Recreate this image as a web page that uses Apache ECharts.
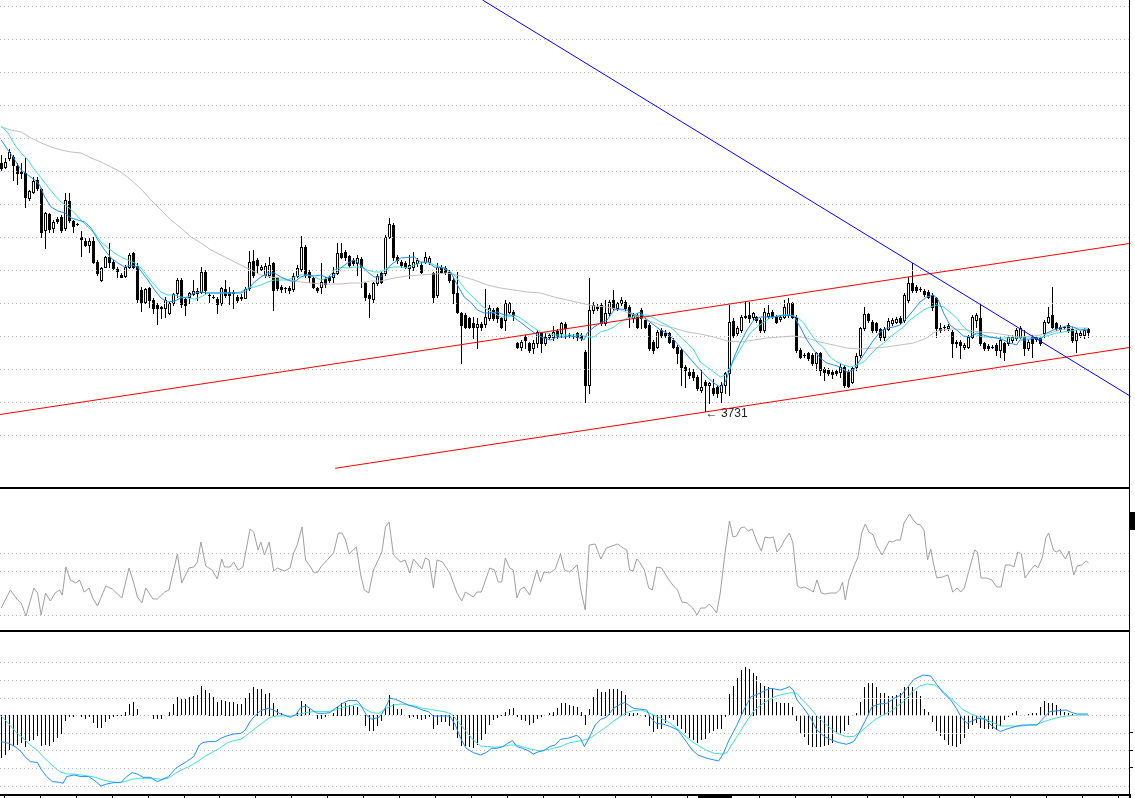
<!DOCTYPE html>
<html><head><meta charset="utf-8">
<script src="https://cdn.jsdelivr.net/npm/echarts@6/dist/echarts.min.js"></script>
<style>html,body{margin:0;padding:0;background:#fff}#c{width:1135px;height:798px}</style>
</head><body><div id="c"></div>
<script>
// ---- price bars (OHLC) ----
const opens = [3979,3975,3984,3985,3976,3970,3969,3944,3950,3962,3953,3912,3928,3914,3923,3925,3914,3941,3921,3918,3905,3901,3897,3901,3880,3862,3875,3885,3880,3873,3867,3866,3875,3889,3876,3852,3840,3854,3842,3837,3834,3834,3829,3839,3849,3862,3843,3845,3848,3851,3850,3870,3847,3845,3843,3839,3853,3850,3850,3845,3845,3844,3854,3881,3882,3873,3867,3867,3879,3864,3855,3854,3854,3853,3866,3873,3895,3870,3864,3854,3855,3863,3865,3865,3869,3889,3890,3886,3882,3879,3883,3859,3847,3843,3859,3869,3869,3905,3917,3885,3880,3879,3874,3875,3879,3877,3880,3880,3869,3847,3875,3874,3870,3862,3849,3829,3827,3824,3819,3815,3818,3818,3824,3832,3834,3824,3822,3830,3830,3799,3795,3805,3799,3794,3799,3809,3799,3805,3805,3811,3809,3818,3807,3806,3809,3807,3790,3757,3832,3834,3837,3819,3829,3842,3834,3839,3840,3835,3824,3827,3832,3822,3817,3800,3795,3812,3809,3809,3802,3795,3792,3775,3770,3770,3765,3752,3760,3757,3754,3755,3750,3757,3769,3821,3809,3812,3826,3827,3825,3825,3822,3812,3826,3830,3825,3823,3825,3827,3839,3825,3792,3787,3789,3787,3779,3789,3773,3772,3770,3771,3770,3775,3770,3760,3775,3787,3814,3828,3820,3819,3813,3805,3813,3819,3820,3824,3822,3842,3859,3855,3853,3851,3850,3847,3844,3814,3815,3814,3810,3800,3800,3795,3795,3805,3822,3824,3799,3796,3795,3797,3792,3799,3799,3802,3804,3805,3805,3794,3805,3803,3804,3809,3820,3827,3819,3815,3815,3817,3813,3802,3807,3807,3813];
const highs = [3987,3984,3993,3987,3979,3979,3984,3952,3965,3965,3954,3930,3929,3922,3925,3927,3949,3949,3922,3919,3911,3904,3904,3905,3882,3875,3886,3899,3882,3875,3869,3877,3889,3890,3879,3855,3854,3855,3844,3839,3836,3845,3840,3849,3864,3864,3845,3850,3862,3854,3875,3872,3849,3847,3845,3855,3862,3855,3852,3847,3848,3855,3891,3892,3884,3877,3879,3885,3880,3865,3857,3855,3856,3869,3877,3906,3897,3872,3865,3855,3879,3865,3867,3875,3899,3899,3892,3887,3884,3887,3885,3860,3849,3860,3868,3870,3907,3924,3919,3887,3882,3881,3887,3890,3884,3880,3890,3886,3870,3879,3877,3876,3872,3865,3870,3830,3829,3825,3825,3824,3820,3853,3837,3834,3835,3825,3842,3840,3832,3800,3802,3807,3800,3802,3812,3810,3809,3809,3816,3813,3820,3820,3809,3808,3810,3809,3792,3864,3840,3838,3839,3842,3842,3852,3840,3845,3842,3837,3829,3829,3834,3824,3819,3802,3812,3814,3812,3810,3804,3797,3794,3777,3774,3773,3767,3772,3762,3760,3763,3757,3760,3770,3837,3824,3816,3827,3840,3840,3830,3826,3824,3834,3837,3832,3827,3827,3842,3844,3840,3827,3794,3789,3790,3789,3790,3790,3775,3774,3773,3773,3779,3777,3772,3775,3789,3815,3835,3829,3822,3820,3814,3815,3824,3824,3825,3826,3849,3865,3879,3857,3855,3853,3852,3849,3845,3819,3817,3818,3812,3802,3802,3799,3807,3827,3829,3839,3800,3798,3797,3799,3805,3800,3807,3807,3814,3816,3812,3802,3807,3807,3806,3822,3835,3855,3820,3817,3816,3819,3815,3812,3811,3814,3814];
const lows = [3972,3974,3982,3962,3958,3964,3935,3942,3949,3952,3905,3894,3910,3910,3919,3910,3912,3920,3910,3917,3886,3896,3890,3879,3867,3861,3875,3875,3873,3865,3865,3865,3874,3874,3840,3831,3839,3835,3829,3818,3824,3825,3828,3837,3845,3835,3827,3839,3847,3842,3849,3849,3840,3844,3829,3837,3845,3838,3834,3840,3842,3844,3852,3865,3870,3872,3865,3865,3832,3852,3850,3850,3849,3851,3865,3871,3865,3860,3854,3850,3849,3855,3860,3860,3868,3884,3882,3875,3877,3867,3855,3842,3825,3840,3857,3859,3867,3904,3882,3879,3875,3874,3864,3872,3876,3869,3879,3878,3840,3845,3869,3868,3860,3839,3829,3779,3814,3814,3804,3794,3812,3815,3822,3822,3820,3814,3812,3829,3822,3794,3792,3794,3790,3789,3795,3790,3797,3803,3802,3804,3805,3804,3805,3804,3802,3802,3740,3749,3829,3832,3817,3817,3827,3832,3832,3837,3832,3815,3820,3814,3814,3814,3792,3789,3794,3805,3805,3799,3794,3779,3757,3755,3764,3762,3752,3750,3731,3739,3747,3745,3740,3749,3747,3805,3807,3810,3824,3820,3822,3820,3810,3810,3824,3824,3819,3821,3824,3825,3824,3790,3784,3785,3782,3777,3772,3767,3762,3767,3764,3767,3765,3755,3755,3759,3772,3785,3812,3820,3810,3810,3802,3802,3812,3817,3819,3819,3820,3840,3850,3850,3851,3846,3844,3832,3805,3810,3812,3812,3785,3795,3784,3793,3794,3804,3815,3797,3792,3792,3794,3787,3785,3782,3797,3800,3802,3804,3787,3792,3785,3801,3797,3805,3819,3814,3812,3811,3813,3810,3800,3790,3805,3804,3805];
const closes = [3974,3980,3990,3977,3969,3969,3945,3951,3961,3954,3910,3929,3913,3920,3921,3912,3942,3922,3916,3918,3903,3897,3901,3880,3869,3874,3885,3880,3874,3871,3865,3875,3887,3875,3843,3840,3853,3842,3834,3834,3835,3842,3839,3848,3862,3838,3837,3849,3851,3849,3870,3852,3847,3845,3838,3854,3847,3847,3849,3842,3844,3853,3880,3867,3877,3875,3876,3877,3852,3854,3853,3854,3852,3866,3874,3895,3867,3865,3855,3852,3860,3858,3862,3869,3889,3885,3885,3877,3879,3884,3875,3845,3844,3859,3866,3860,3905,3918,3885,3882,3877,3875,3877,3880,3882,3870,3885,3884,3845,3875,3870,3870,3862,3849,3830,3817,3815,3815,3815,3818,3815,3825,3834,3824,3824,3815,3839,3839,3827,3795,3800,3802,3792,3799,3810,3799,3805,3807,3810,3806,3819,3814,3807,3806,3805,3804,3757,3832,3837,3835,3819,3829,3840,3834,3839,3842,3834,3825,3827,3815,3824,3815,3794,3792,3810,3807,3807,3800,3795,3789,3775,3772,3767,3765,3754,3755,3757,3759,3749,3749,3757,3769,3820,3807,3814,3825,3825,3824,3829,3822,3812,3830,3829,3826,3820,3825,3835,3839,3825,3792,3785,3787,3784,3779,3789,3772,3770,3769,3768,3769,3775,3757,3756,3774,3786,3814,3828,3822,3812,3812,3805,3813,3821,3822,3823,3820,3847,3859,3852,3852,3853,3848,3845,3835,3814,3812,3815,3816,3799,3799,3797,3797,3805,3825,3827,3799,3794,3794,3795,3792,3802,3790,3805,3805,3812,3814,3794,3800,3799,3805,3799,3820,3825,3815,3814,3813,3815,3812,3802,3809,3809,3812,3810];

// ---- moving averages: [bar, value] ----
const maFast = [[-0.2,4002],[1.5,3992],[2.75,3985],[4.8,3972],[6.5,3967],[8.2,3962],[9.4,3957],[10.7,3945],[12.3,3935],[14,3931],[15.7,3929],[17.3,3924],[19,3922],[20.7,3920],[22.3,3914],[24,3902],[25.7,3892],[27.3,3884],[29,3879],[30.7,3875],[32.3,3877],[34,3875],[36.5,3862],[38.2,3852],[39.8,3844],[41.5,3840],[43.2,3841],[44.8,3844],[46.5,3845],[48.2,3849],[49.8,3850],[51.5,3849],[54.8,3849],[58.2,3849],[59.8,3849],[61.5,3852],[63.2,3860],[64.8,3865],[66.5,3869],[68.2,3869],[69.8,3865],[71.5,3862],[73.2,3860],[74.8,3865],[76.5,3867],[78.2,3866],[79.8,3867],[81.5,3864],[83.2,3867],[84.8,3874],[86.5,3879],[88.2,3882],[89.8,3877],[91.5,3870],[93.2,3865],[94.8,3865],[97.3,3877],[99.8,3884],[103.2,3885],[104.8,3880],[106.5,3880],[108.2,3875],[110.7,3874],[112.3,3870],[114,3857],[115.7,3845],[117.3,3840],[119,3832],[120.7,3829],[122.3,3829],[124,3830],[125.7,3827],[127.3,3827],[129,3822],[130.7,3817],[132.3,3812],[134,3807],[135.7,3804],[137.3,3802],[139,3805],[140.7,3805],[142.3,3806],[144,3805],[145.7,3802],[146.5,3809],[148.2,3815],[149.8,3819],[151.5,3822],[153.2,3832],[154.8,3833],[156.5,3832],[158.2,3827],[159.8,3830],[161.5,3822],[163.2,3817],[164.8,3812],[166.5,3809],[168.2,3802],[169.8,3795],[171.5,3787],[173.2,3779],[174.8,3772],[176.5,3765],[178.2,3759],[179.8,3755],[181.1,3760],[181.9,3769],[183.2,3784],[184.8,3799],[186.5,3812],[188.2,3822],[189.8,3825],[191.5,3825],[193.2,3825],[194.8,3826],[196.5,3827],[198.2,3826],[199.8,3815],[201.5,3802],[203.2,3792],[204.8,3784],[206.5,3779],[208.2,3777],[209.8,3775],[211.5,3770],[213.2,3772],[214.8,3782],[216.5,3792],[218.2,3802],[219.8,3810],[221.5,3814],[223.2,3815],[224.8,3817],[226.5,3824],[228.2,3832],[229.8,3840],[231.5,3845],[233.2,3847],[234.4,3842],[235.7,3829],[237.3,3817],[239,3812],[240.7,3806],[242.3,3805],[244,3809],[245.7,3807],[247.3,3805],[249,3804],[250.7,3802],[252.3,3799],[254,3797],[254.8,3802],[256.5,3802],[258.2,3804],[259.8,3802],[261.5,3809],[263.2,3812],[264.8,3814],[266.5,3816],[268.2,3815],[269.8,3812],[271.8,3812]];
const maMid = [[-0.2,4016],[1.5,4009],[3.2,3997],[4.8,3989],[6.5,3982],[8.2,3972],[9.8,3964],[11.5,3955],[13.2,3947],[14.8,3940],[16.5,3935],[18.2,3929],[19.8,3922],[21.5,3915],[23.2,3909],[24.8,3900],[26.5,3894],[28.2,3889],[29.8,3885],[31.5,3882],[33.2,3879],[34.8,3874],[36.5,3865],[38.2,3857],[39.8,3850],[41.5,3847],[43.2,3847],[44.8,3845],[46.5,3844],[48.2,3843],[49.8,3845],[51.5,3849],[53.2,3849],[58.2,3849],[59.8,3850],[61.5,3854],[63.2,3855],[64.8,3857],[66.5,3860],[68.2,3862],[71.5,3862],[73.2,3865],[74.8,3867],[76.5,3867],[78.2,3865],[79.8,3862],[81.5,3864],[83.2,3872],[84.8,3875],[86.5,3874],[88.2,3875],[89.8,3875],[91.5,3872],[93.2,3870],[94.8,3870],[96.5,3874],[98.2,3875],[99.8,3875],[101.5,3874],[103.2,3877],[104.8,3879],[106.5,3880],[108.2,3877],[109.8,3875],[111.5,3872],[113.2,3867],[114.8,3859],[116.5,3850],[118.2,3844],[119.8,3837],[121.5,3832],[123.2,3829],[124.8,3825],[126.5,3825],[128.2,3827],[129.8,3824],[131.5,3819],[133.2,3814],[134.8,3810],[136.5,3809],[138.2,3807],[144.8,3807],[146.5,3805],[148.2,3805],[149.8,3810],[151.5,3812],[153.2,3815],[154.8,3820],[156.5,3824],[158.2,3825],[159.8,3827],[161.5,3827],[163.2,3824],[164.8,3820],[166.5,3817],[168.2,3812],[169.8,3805],[171.5,3799],[173.2,3792],[174.8,3780],[176.5,3775],[178.2,3770],[179.8,3765],[181.1,3767],[182.3,3775],[184,3787],[185.7,3799],[187.3,3809],[189,3815],[190.7,3820],[192.3,3824],[194,3826],[195.7,3827],[197.3,3827],[199,3825],[200.7,3819],[202.3,3809],[204,3800],[205.7,3794],[207.3,3785],[209,3780],[210.7,3777],[212.3,3775],[214,3777],[215.7,3780],[217.3,3787],[219,3794],[220.7,3799],[222.3,3805],[224,3810],[225.7,3815],[227.3,3822],[229,3827],[230.7,3832],[232.3,3835],[234,3837],[235.7,3835],[237.3,3830],[239,3824],[240.7,3815],[242.3,3810],[244,3807],[245.7,3805],[247.3,3805],[249,3804],[259,3804],[260.7,3805],[262.3,3807],[264,3809],[265.7,3810],[267.3,3811],[269,3812],[271.8,3813]];
const maSlow = [[-0.2,4015],[2.3,4012],[4.8,4010],[7.3,4004],[9.8,3999],[12.3,3995],[14.8,3992],[17.3,3990],[19.8,3989],[22.3,3984],[24.8,3980],[27.3,3975],[29.8,3970],[32.3,3962],[34.8,3953],[37.3,3942],[39.8,3932],[42.3,3922],[44.8,3914],[47.3,3905],[49.8,3899],[52.3,3892],[54.8,3887],[57.3,3882],[59.8,3877],[62.3,3872],[64.8,3867],[67.3,3865],[69.8,3864],[72.3,3862],[74.8,3860],[77.3,3859],[79.8,3858],[82.3,3858],[84.8,3858],[87.3,3859],[89.8,3859],[92.3,3861],[94.8,3861],[98.2,3864],[101.5,3866],[104.8,3867],[108.2,3868],[111.5,3869],[114.8,3866],[118.2,3862],[121.5,3857],[124.8,3854],[128.2,3852],[131.5,3850],[134.8,3849],[138.2,3845],[141.5,3842],[144.8,3839],[148.2,3836],[151.5,3835],[154.8,3832],[158.2,3827],[161.5,3822],[164.8,3817],[168.2,3814],[171.5,3810],[174.8,3808],[178.2,3805],[181.5,3801],[184.8,3800],[188.2,3802],[191.5,3804],[194.8,3805],[198.2,3806],[201.5,3804],[204.8,3800],[208.2,3797],[211.5,3794],[214.8,3793],[218.2,3794],[221.5,3795],[224.8,3797],[228.2,3799],[231.5,3804],[233.2,3809],[234.8,3812],[238.2,3813],[241.5,3812],[244.8,3810],[248.2,3809],[251.5,3807],[254.8,3805],[258.2,3806],[261.5,3808],[264.8,3812],[268.2,3814],[271.8,3814]];

// ---- trend lines: two anchors each [bar, price] ----
const channelUpper = [[-0.5,3727.5],[282.5,3898.7]];
const channelLower = [[83.4,3673.7],[282.5,3794.7]];
const downTrend = [[120.3,4142],[282.5,3745.7]];

// ---- oscillator panel ----
const oscLine = [[-0.2,23],[2.1,41],[3.9,31],[4.8,28],[6,15],[8,43],[8.9,38],[9.8,16],[10.9,38],[12.1,30],[13.3,38],[14.4,41],[15.1,36],[16,64],[17.1,51],[18.5,48],[19.4,51],[20.6,39],[21.8,43],[22.7,33],[23.9,25],[26,45],[27.6,42],[30,33],[31.8,63],[33,48],[33.9,34],[35,28],[36,43],[37.8,32],[38.9,32],[40.7,39],[41.8,41],[43.9,77],[45,48],[46.8,63],[48,64],[48.9,69],[49.8,89],[51,65],[52.6,61],[53.9,52],[55,72],[55.7,64],[57.1,64],[58,69],[59.1,61],[60.3,64],[62.1,102],[63,99],[64.1,81],[64.8,89],[65.7,76],[66.9,89],[68,60],[68.9,63],[70.7,60],[72.1,63],[73,78],[73.9,86],[75.1,104],[76,71],[76.9,66],[78.2,58],[79.1,59],[79.8,64],[83,78],[84.2,98],[85.1,98],[86,91],[86.9,77],[88.7,84],[89.8,56],[90.7,41],[91.8,38],[93,61],[95.1,79],[96,104],[96.9,109],[98,76],[99.8,69],[100.9,71],[102.1,58],[103,72],[105.1,62],[106,73],[106.9,71],[108,43],[108.9,71],[110.3,69],[112.1,58],[113.9,38],[115.1,30],[116,39],[118,34],[118.9,39],[120,39],[122.1,63],[123.3,61],[124.2,49],[125.1,49],[126,73],[127.1,63],[128,61],[128.9,33],[129.8,42],[130.7,44],[132.1,36],[133.9,61],[134.8,49],[135.7,59],[137.1,58],[138.5,62],[139.8,77],[140.8,61],[142.1,59],[144,66],[144.9,41],[146,21],[147,86],[148.5,87],[149.9,72],[151.3,83],[152.7,85],[154.1,87],[155.5,83],[156.4,81],[157.1,61],[158,60],[158.9,72],[159.6,69],[160.8,61],[161.9,43],[162.8,41],[163.9,64],[165.1,63],[166.5,54],[167.9,46],[169.1,41],[170.2,29],[171.5,28],[172.9,23],[174,16],[174.9,23],[176.1,23],[177,27],[178,23],[178.9,18],[179.8,38],[181,78],[182.1,110],[183,94],[183.9,95],[184.9,103],[185.8,104],[186.9,100],[187.8,102],[189,89],[190.1,80],[191,94],[192.2,93],[193.1,94],[194,79],[195,84],[195.9,91],[197.1,98],[198,88],[199.1,45],[200,43],[200.9,44],[202.3,41],[203.1,39],[204,51],[205.1,38],[206,37],[207.4,38],[208.8,38],[209.7,41],[210.4,49],[211.1,31],[212,51],[213.4,66],[214.3,74],[215.2,98],[216.1,107],[217,99],[218.1,96],[218.9,86],[220.3,76],[221.2,83],[222.1,90],[223,89],[223.9,91],[224.9,91],[225.8,108],[227.2,117],[228.1,111],[229,107],[229.9,106],[230.8,101],[231.7,71],[232.5,82],[233.1,69],[234,53],[235.4,54],[236.8,56],[238,39],[239.1,43],[240,39],[240.9,43],[241.9,58],[242.8,71],[243.5,81],[244.2,79],[245.1,53],[246.5,53],[247.8,51],[249,44],[250.1,44],[251.2,66],[252.4,66],[253.3,64],[254.3,79],[255.2,77],[256.1,53],[257.5,61],[258.6,66],[259.3,63],[260.4,73],[261.3,93],[262,98],[263.2,81],[263.9,79],[264.8,81],[266.2,72],[267.1,80],[268.3,56],[269.2,65],[270.3,66],[271.4,70],[272,68]];
const oscLevels = [77.5, 59.5, 15.5];

// ---- MACD panel ----
const macdHist = [-43,-39.7,-34.7,-31.3,-29.7,-28,-32,-26.3,-24.7,-20.7,-31.3,-29.7,-31.3,-27.3,-23,-18.7,-6.3,-2,-2,0,-2,-4,-2,-8,-13.3,-13,-7.3,-4,-2,-1.3,-0.7,3.7,11.3,13.7,6,0,0,0.3,-4,-4,-4,0,3.7,11.3,18.7,16,16,18,19.3,20.3,29.3,25.3,22.7,18.7,13.7,15.3,14.7,13.7,13.7,11.3,11.3,17,22,28,26.7,26.7,21.3,22.7,12.7,6,2,0,0,0,3.7,14.7,11.3,6,0,-4,-4,-2,0,2.7,8.7,12.7,12.7,10.3,9.3,8,0,-10.7,-16.3,-16.3,-11.3,-6.3,8,20,11.3,6,6,0,-3,-2,-4,-5.3,-4,-2,-14,-9.7,-7.3,-7.3,-10.7,-14.7,-23,-31.3,-31.3,-32,-33,-29.7,-24.7,-18.7,-9.7,-4.7,-3,-1.3,3.7,6,7,-2,-4.7,-6.3,-9.7,-8,-4,-2,0,2,3.7,7,12,12,10.3,9.3,8,3.7,-9.7,6,18,26,23.7,23.7,26,26,26,24.7,20.3,2.7,2.7,2,0,-2,-11.3,-17.3,-14,-14,-8,-3,-4.7,-11.3,-14,-18,-23,-24.7,-28,-24.7,-24,-18,-16.3,-14,-14,-2,21.3,29.3,37,45.3,48,46,42.7,39.3,32,29.3,28.7,26,13.7,12.7,12.7,12,8,-6.3,-18.7,-22,-29.7,-32,-32,-32,-31.3,-29.7,-28,-18.7,-18.7,-16.3,-9.7,-0.7,2.7,13.7,28,32,32.7,28,22.7,22,19.3,19.3,20.3,22,28,28.7,28,24.7,19.3,6,3.7,-7.3,-16.3,-20.7,-25.3,-29.7,-31.3,-32,-28.7,-23,-14,-9.7,-8,-13,-14,-14,-14,-14.7,-10.7,-4.7,-2,2,4.7,0,0.3,1.3,2,2.7,8,14.7,12.7,12,10.3,6,3.7,2,1.3,0.7,0,0,0];
const macdLine = [[-0.2,-26.3],[1.7,-28],[3.5,-32],[4.8,-36.3],[5.7,-41.3],[7.1,-46.3],[8.9,-47.3],[9.8,-54],[11.2,-61.3],[12.6,-66.3],[14.4,-67],[15.3,-68],[16.2,-61.3],[18,-59.7],[19.8,-61.3],[21.7,-61.3],[23,-64.7],[24.8,-70.7],[26.2,-68.7],[28,-67.3],[29.8,-67.3],[31.2,-61.3],[32.6,-57.3],[33.9,-58.7],[35.3,-62],[37.1,-62],[38.9,-66.3],[40.3,-64],[41.7,-61.3],[43.5,-53],[44.8,-49.7],[46.2,-46.3],[48,-41.3],[49.4,-29.7],[50.3,-27.3],[51.7,-26.3],[53.5,-26.3],[54.8,-23],[56.2,-20.7],[58,-18.7],[59.8,-18],[60.9,-14.7],[62.1,-6.3],[63.5,0.3],[64.8,4.7],[66.7,7],[68,5.3],[69.4,2],[70.7,0.3],[72.1,-2],[73.5,0.3],[74.8,8],[76.2,9.3],[77.6,5.3],[78.9,2],[80.7,2],[82.1,2.7],[83.5,7],[85.3,12],[86.7,14.7],[88.9,14.7],[89.8,10.3],[91.2,0.3],[92.6,-4],[94.4,-2],[95.7,5.3],[97.1,17],[98.5,16],[99.8,13.7],[101.7,10.3],[103.5,8],[105.3,5.3],[106.7,3.7],[108,-0.7],[112.1,-0.7],[113.5,-9.7],[114.8,-23],[116.2,-33],[118,-37.3],[119.8,-39.7],[121.2,-37.3],[122.6,-33],[123.9,-33],[125.3,-31.3],[126.6,-28],[127.8,-25.3],[128.9,-31.3],[130.3,-33],[131.7,-35.3],[133,-38.7],[134.4,-36.3],[135.7,-35.3],[137.1,-31.3],[138.5,-29.7],[139.8,-24],[141.6,-23],[143.9,-20],[144.8,-23],[145.8,-31.3],[146.7,-24.7],[148.5,-9.7],[149.9,-4],[151.3,-2],[153.1,7],[154.9,11.3],[155.9,12.7],[156.8,10.3],[158.1,7],[160,6],[161.4,5.3],[162.3,-2],[163.7,-8],[165.5,-8.7],[167.3,-11.3],[169.2,-14.7],[171,-24.7],[172.8,-34.7],[174.2,-39.7],[176.5,-43],[178.3,-44.7],[179.4,-45.7],[180.6,-38],[182,-24.7],[183.8,-11.3],[185.7,5.3],[187.5,18.7],[189.3,21.3],[191.2,25.3],[192.5,27],[194.8,25.3],[196.2,27],[197.1,28.7],[198.1,25.3],[199,15.3],[200.4,8.7],[202.2,-1.3],[204,-14.7],[205.9,-21.3],[207.7,-24.7],[209.5,-27.3],[211.4,-29],[213.2,-26.3],[214.1,-20.7],[216,-6.3],[217.8,8.7],[219.6,11.3],[221.5,12],[223.3,17],[225.1,20.3],[226.5,27],[228.3,36],[230.6,40.3],[232.5,39.3],[233.8,32],[235.7,22],[237.5,15.3],[238.9,7],[240.3,-3],[241.6,-8],[243,-5.3],[244.4,-3],[246.2,-4],[248,-11.3],[249.9,-16.3],[251.3,-14],[253.6,-11.3],[255.4,-9.7],[259.1,-9.7],[260.9,-2],[262.3,3.7],[264.6,4.7],[266.4,5.3],[267.8,2.7],[269.2,1.3],[271.9,1.3]];
const signalLine = [[-0.2,-0.7],[1.6,-8],[3.4,-16.3],[5.3,-23],[7.1,-29.7],[8.9,-35.3],[10.7,-43],[12.5,-49.7],[14.4,-56.3],[16.2,-58.7],[18,-58.7],[19.8,-59.7],[21.6,-60.7],[23.4,-62],[25.3,-64.7],[27.1,-66.3],[28.9,-67.3],[30.7,-66.3],[32.5,-64],[34.4,-63],[38,-63],[39.8,-64],[41.6,-63],[43.4,-58],[45.3,-54],[47.1,-50.7],[48.9,-46.3],[50.7,-41.3],[52.5,-37.3],[54.4,-33],[56.2,-28],[58,-25.3],[59.8,-24],[61.6,-18.7],[63.4,-13],[65.3,-7.3],[67.1,-2],[68.9,-0.7],[72.5,-0.7],[74.4,1.3],[76.2,2.7],[78,3.7],[81.6,3.7],[83.4,5.3],[85.3,8],[87.1,9.3],[88.9,11.3],[90.7,7],[92.5,2.7],[94.4,2],[96.2,7],[98,10.3],[99.8,11.3],[101.6,10.3],[103.4,9.3],[105.3,7],[107.1,6],[108.9,4.7],[110.7,3.7],[112.5,1.3],[114.4,-7.3],[116.2,-16.3],[118,-24.7],[119.8,-30.7],[121.6,-31.3],[123.4,-32],[125.3,-31.3],[127.1,-29.7],[128.9,-29.7],[130.7,-32],[132.5,-34],[134.4,-35.3],[136.2,-34.7],[138,-33],[139.8,-31.3],[141.6,-28],[143.5,-26.3],[145.3,-25.3],[147.1,-23],[149,-18],[150.8,-13],[152.6,-7.3],[154.5,-2],[156.3,2.7],[158.1,4.7],[160,5.3],[161.8,2.7],[163.7,-0.7],[165.5,-4],[167.3,-8],[169.2,-14],[171,-20.7],[172.8,-26.3],[174.7,-31.3],[176.5,-35.3],[178.3,-38],[180.2,-38.7],[181.5,-37.3],[182.9,-28],[184.8,-16.3],[186.6,-4.7],[188.4,5.3],[190.3,11.3],[192.1,16],[193.9,19.3],[195.8,21.3],[197.6,22.7],[199,22],[200.4,15.3],[202.2,8],[204,-0.7],[205.9,-8],[207.7,-14],[209.5,-18.7],[211.4,-21.3],[213.2,-21.3],[215,-16.3],[216.9,-9.7],[218.7,-4],[220.5,0.3],[222.4,3.7],[224.2,9.3],[226,14.7],[227.9,23.7],[229.7,29.3],[231.5,31.3],[233.4,30.3],[235.2,25.3],[237,18.7],[238.9,12],[240.7,5.3],[242.6,1.3],[244.4,-1.3],[246.2,-4],[248.1,-7.3],[249.9,-10.7],[255.4,-10.7],[257.2,-9.7],[259.1,-9],[260.9,-6.3],[262.7,-4],[264.6,-2],[266.4,-0.7],[268.2,0],[270.1,0.3],[271.9,0.3]];
const macdLevels = [52.8, 34.8, 16.8, -0.2, -18.2, -35.2, -53.2, -71.2];

// ---- price grid levels ----
const priceLevels = [4135.5,4102.5,4069.5,4036.5,4003.5,3970.5,3937.5,3904.5,3871.5,3838.5,3805.5,3772.5,3739.5,3706.5];

const slotCount = 283;
const tickEvery = 9;
const categories = Array.from({length: slotCount}, (_, i) => String(i));

const chart = echarts.init(document.getElementById('c'), null, {renderer: 'canvas'});
const candleData = opens.map((o, i) => [i, o, closes[i], lows[i], highs[i]]);
const histData = macdHist.map((v, i) => [i, v]);
const lowVal = Math.min(...lows);
const lowIdx = lows.indexOf(lowVal);

const dot = {color: '#b8b8b8', type: [1, 3], width: 1};
const gridLines = (vals) => ({
  symbol: ['none', 'none'], silent: true, animation: false,
  label: {show: false}, lineStyle: dot, emphasis: {disabled: true},
  data: vals.map(v => ({yAxis: v}))
});
const L = -1.5, W = 4 * slotCount;
const lineBase = {type: 'line', showSymbol: false, symbol: 'none', animation: false, silent: true};

function renderCandle(params, api) {
  const i = api.value(0), o = api.value(1), c = api.value(2), l = api.value(3), h = api.value(4);
  const pO = api.coord([i, o]), pC = api.coord([i, c]), pL = api.coord([i, l]), pH = api.coord([i, h]);
  const cx = Math.floor(pO[0]);
  const yH = Math.round(pH[1]), yL = Math.round(pL[1]);
  const yT = Math.round(Math.min(pO[1], pC[1])), yB = Math.round(Math.max(pO[1], pC[1]));
  const kids = [
    {type: 'rect', shape: {x: cx, y: yH, width: 1, height: yL - yH + 1}, style: {fill: '#000'}},
    {type: 'rect', shape: {x: cx - 1, y: yT, width: 3, height: yB - yT + 1}, style: {fill: '#000'}}
  ];
  if (c > o && yB - yT >= 2) {
    kids.push({type: 'rect', shape: {x: cx, y: yT + 1, width: 1, height: yB - yT - 1}, style: {fill: '#fff'}});
  }
  return {type: 'group', children: kids};
}
function renderHist(params, api) {
  const i = api.value(0), v = api.value(1);
  const p = api.coord([i, v]), b = api.coord([i, 0]);
  const x = Math.floor(p[0]);
  const y0 = Math.round(Math.min(p[1], b[1]));
  const hgt = Math.round(Math.abs(p[1] - b[1]));
  return {type: 'rect', shape: {x: x, y: y0, width: 1, height: Math.max(hgt, 0)}, style: {fill: '#000'}};
}

chart.setOption({
  animation: false,
  backgroundColor: '#ffffff',
  grid: [
    {left: L, top: 0, width: W, height: 487},
    {left: L, top: 489, width: W, height: 141},
    {left: L, top: 632, width: W, height: 162}
  ],
  xAxis: [
    {type: 'category', gridIndex: 0, data: categories, show: false},
    {type: 'value', gridIndex: 0, min: -0.5, max: slotCount - 0.5, show: false},
    {type: 'category', gridIndex: 1, data: categories, show: false},
    {type: 'value', gridIndex: 1, min: -0.5, max: slotCount - 0.5, show: false},
    {type: 'category', gridIndex: 2, data: categories, position: 'bottom',
      axisLine: {show: false, onZero: false}, axisLabel: {show: false}, splitLine: {show: false},
      axisTick: {show: true, length: 4, interval: (idx) => idx % tickEvery === 1, lineStyle: {color: '#000', width: 1}}},
    {type: 'value', gridIndex: 2, min: -0.5, max: slotCount - 0.5, show: false}
  ],
  yAxis: [
    {type: 'value', gridIndex: 0, min: 3655, max: 4142, show: false},
    {type: 'value', gridIndex: 1, min: 1, max: 142, show: false},
    {type: 'value', gridIndex: 2, min: -78.7, max: 83.3, show: false}
  ],
  series: [
    Object.assign({}, lineBase, {name: 'gridMain', xAxisIndex: 1, yAxisIndex: 0, data: [], markLine: gridLines(priceLevels), z: 1}),
    {
      type: 'custom', name: 'price', xAxisIndex: 0, yAxisIndex: 0, data: candleData,
      encode: {x: 0, y: [1, 2, 3, 4]}, renderItem: renderCandle, z: 3, silent: true, animation: false
    },
    Object.assign({}, lineBase, {name: 'MA slow', xAxisIndex: 1, yAxisIndex: 0, data: maSlow, lineStyle: {color: '#c0c0c0', width: 1}, z: 4}),
    Object.assign({}, lineBase, {name: 'MA mid', xAxisIndex: 1, yAxisIndex: 0, data: maMid, lineStyle: {color: '#40e0d0', width: 1}, z: 5}),
    Object.assign({}, lineBase, {name: 'MA fast', xAxisIndex: 1, yAxisIndex: 0, data: maFast, lineStyle: {color: '#1e90ff', width: 1}, z: 6,
      markPoint: {
        symbol: 'rect', symbolSize: 1, silent: true, animation: false,
        itemStyle: {color: 'rgba(0,0,0,0)'},
        data: [{coord: [lowIdx, lowVal], value: lowVal}],
        label: {show: true, position: 'right', distance: 0, offset: [0, 3],
          formatter: p => '\u2190 ' + p.value,
          color: '#222', fontSize: 12, fontFamily: 'Liberation Sans, Arial, DejaVu Sans'}
      }}),
    Object.assign({}, lineBase, {name: 'ch up', xAxisIndex: 1, yAxisIndex: 0, data: channelUpper, lineStyle: {color: '#ff0000', width: 1}, z: 7}),
    Object.assign({}, lineBase, {name: 'ch low', xAxisIndex: 1, yAxisIndex: 0, data: channelLower, lineStyle: {color: '#ff0000', width: 1}, z: 7}),
    Object.assign({}, lineBase, {name: 'down', xAxisIndex: 1, yAxisIndex: 0, data: downTrend, lineStyle: {color: '#0000ff', width: 1}, z: 7}),
    Object.assign({}, lineBase, {name: 'osc', xAxisIndex: 3, yAxisIndex: 1, data: oscLine, lineStyle: {color: '#a0a0a0', width: 1}, markLine: gridLines(oscLevels), z: 3}),
    {type: 'custom', name: 'hist', xAxisIndex: 4, yAxisIndex: 2, data: histData, encode: {x: 0, y: 1},
      renderItem: renderHist, silent: true, animation: false, markLine: gridLines(macdLevels), z: 3},
    Object.assign({}, lineBase, {name: 'macd', xAxisIndex: 5, yAxisIndex: 2, data: macdLine, lineStyle: {color: '#1e90ff', width: 1}, z: 5}),
    Object.assign({}, lineBase, {name: 'signal', xAxisIndex: 5, yAxisIndex: 2, data: signalLine, lineStyle: {color: '#40e0d0', width: 1}, z: 4})
  ],
  graphic: [
    {type: 'rect', shape: {x: 0, y: 487, width: 1130, height: 2}, style: {fill: '#000'}, silent: true, z: 100},
    {type: 'rect', shape: {x: 0, y: 630, width: 1130, height: 2}, style: {fill: '#000'}, silent: true, z: 100},
    {type: 'rect', shape: {x: 0, y: 794, width: 1130, height: 2}, style: {fill: '#000'}, silent: true, z: 100},
    {type: 'rect', shape: {x: 1129, y: 0, width: 1, height: 798}, style: {fill: '#000'}, silent: true, z: 100},
    {type: 'rect', shape: {x: 1130, y: 512, width: 5, height: 18}, style: {fill: '#000'}, silent: true, z: 100},
    {type: 'rect', shape: {x: 698, y: 796, width: 34, height: 2}, style: {fill: '#000'}, silent: true, z: 100},
    {type: 'rect', shape: {x: 1130, y: 732, width: 3, height: 1}, style: {fill: '#000'}, silent: true, z: 100},
    {type: 'rect', shape: {x: 1130, y: 750, width: 3, height: 1}, style: {fill: '#000'}, silent: true, z: 100},
    {type: 'rect', shape: {x: 1130, y: 767, width: 3, height: 1}, style: {fill: '#000'}, silent: true, z: 100}
  ]
});
</script>
</body></html>
